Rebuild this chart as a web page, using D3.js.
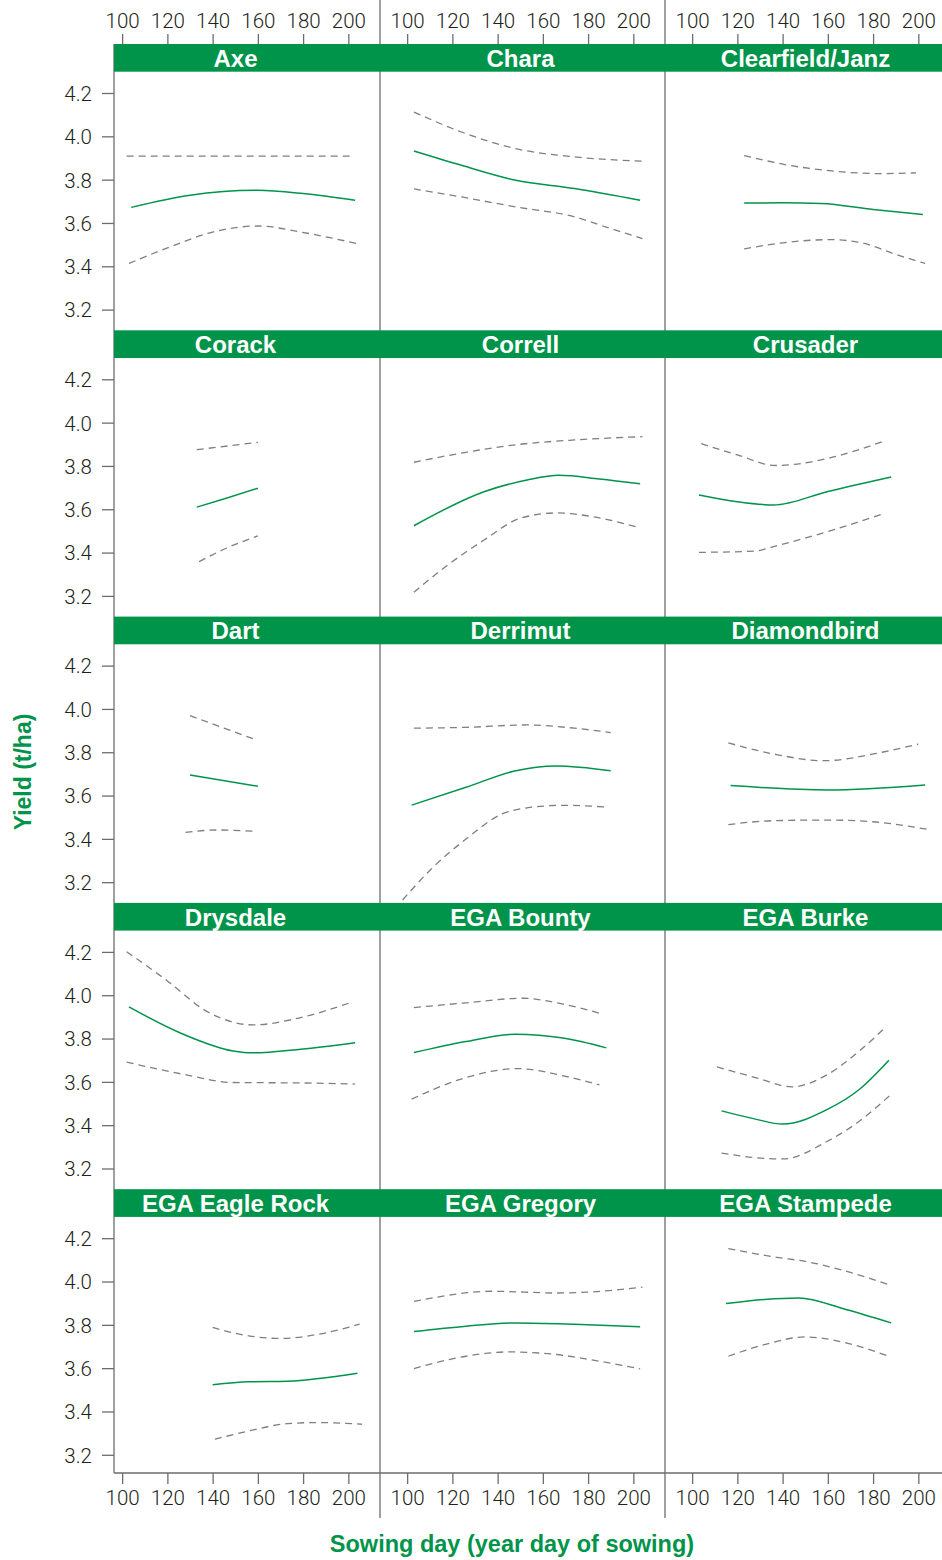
<!DOCTYPE html>
<html>
<head>
<meta charset="utf-8">
<script src="https://cdn.jsdelivr.net/npm/d3@7"></script>
<style>
  html, body { margin: 0; padding: 0; background: #fff; }
  svg { display: block; }
</style>
</head>
<body>
<div id="chart"></div>
<script>
// Wheat variety yield response to sowing day: fitted curve with upper/lower bounds.
const varieties = ["Axe", "Chara", "Clearfield/Janz", "Corack", "Correll", "Crusader",
  "Dart", "Derrimut", "Diamondbird", "Drysdale", "EGA Bounty", "EGA Burke",
  "EGA Eagle Rock", "EGA Gregory", "EGA Stampede"];

// fitted yield (t/ha) by sowing day
const fitDay = [
  [104,130,160,180,203], [103,124,148,174,203], [123,140,157,180,202],
  [133,146,160], [103,134,153,167,185,203], [103,120,136,160,188],
  [130,160], [102,126,147,166,190], [117,160,203],
  [103,127,149,158,179,203], [103,126,148,169,188], [113,128,140,160,174,187],
  [140,156,173,204], [103,126,148,174,203], [115,132,147,168,188]];
const fitYield = [
  [3.672,3.728,3.751,3.736,3.705], [3.932,3.866,3.797,3.759,3.705], [3.692,3.693,3.690,3.662,3.639],
  [3.610,3.651,3.697], [3.524,3.681,3.735,3.757,3.740,3.718], [3.666,3.635,3.620,3.682,3.749],
  [3.695,3.643], [3.556,3.638,3.712,3.737,3.715], [3.646,3.626,3.649],
  [3.946,3.820,3.743,3.734,3.751,3.781], [3.735,3.786,3.820,3.802,3.757], [3.466,3.428,3.405,3.474,3.566,3.700],
  [3.523,3.537,3.540,3.577], [3.769,3.794,3.809,3.803,3.791], [3.898,3.917,3.924,3.871,3.809]];

// upper bound
const upperDay = [
  [102,152,202], [103,124,148,174,204], [123,143,159,183,199],
  [133,160], [103,126,150,174,204], [104,120,137,160,184],
  [130,159], [103,126,153,174,190], [116,136,158,184,200],
  [102,120,137,158,179,201], [103,126,151,169,185], [111,128,144,160,174,186],
  [140,156,170,187,205], [103,138,166,180,204], [116,136,152,168,188]];
const upperYield = [
  [3.909,3.909,3.909], [4.112,4.020,3.943,3.905,3.885], [3.911,3.866,3.843,3.828,3.831],
  [3.875,3.909], [3.817,3.863,3.900,3.920,3.935], [3.903,3.851,3.802,3.835,3.912],
  [3.969,3.858], [3.911,3.915,3.926,3.911,3.891], [3.843,3.792,3.761,3.800,3.838],
  [4.201,4.066,3.928,3.863,3.897,3.966], [3.943,3.965,3.986,3.959,3.917], [3.669,3.620,3.577,3.635,3.743,3.857],
  [3.788,3.749,3.737,3.757,3.803], [3.908,3.955,3.947,3.951,3.974], [4.152,4.114,4.089,4.048,3.982]];

// lower bound
const lowerDay = [
  [103,123,140,160,179,205], [103,124,148,174,188,204], [123,143,161,175,190,203],
  [134,146,160], [103,118,134,150,166,182,202], [103,128,136,160,184],
  [128,142,158], [98,110,126,142,153,169,188], [116,136,160,180,204],
  [102,127,149,179,203], [102,126,149,169,185], [113,128,140,160,174,188],
  [141,156,173,187,206], [103,126,145,166,185,203], [116,132,150,168,186]];
const lowerYield = [
  [3.413,3.497,3.558,3.586,3.558,3.502], [3.757,3.720,3.674,3.628,3.581,3.528], [3.480,3.512,3.523,3.508,3.455,3.413],
  [3.358,3.420,3.477], [3.217,3.343,3.458,3.558,3.583,3.566,3.517], [3.401,3.407,3.428,3.497,3.578],
  [3.430,3.441,3.435], [3.118,3.254,3.399,3.515,3.543,3.555,3.547], [3.466,3.484,3.487,3.479,3.444],
  [3.691,3.635,3.597,3.595,3.590], [3.520,3.620,3.661,3.628,3.586], [3.271,3.250,3.244,3.327,3.419,3.543],
  [3.272,3.310,3.344,3.349,3.341], [3.598,3.655,3.675,3.663,3.632,3.597], [3.655,3.709,3.744,3.717,3.658]];

const xTicks = [100, 120, 140, 160, 180, 200];
const yTicks = [3.2, 3.4, 3.6, 3.8, 4.0, 4.2];

// ---- layout ----
const W = 942, H = 1560;
const nCols = 3, nRows = 5;
const panelW = 285;
const colOrigin0 = 95;
const plotLeft = 114, plotRight = W;
const rowPitch = 286.3, stripTop0 = 44, stripH = 27.7;
const plotBottom = 1473;
const green = "#00944a", axisGrey = "#6d6d6d", textCol = "#231f20";
const tickFont = "Roboto, 'Liberation Sans', Arial, sans-serif";
const boldFont = "'Liberation Sans', Arial, Helvetica, sans-serif";

const svg = d3.select("#chart").append("svg")
  .attr("width", W).attr("height", H);

const colX = c => colOrigin0 + c * panelW;
const stripTop = r => stripTop0 + r * rowPitch;
const panelBottom = r => r === nRows - 1 ? plotBottom : stripTop(r + 1);

const xScaleFor = c => d3.scaleLinear().domain([88, 214]).range([colX(c), colX(c) + panelW]);
const yScaleFor = r => {
  const top = stripTop(r) + stripH + 21.3;
  return d3.scaleLinear().domain([3.2, 4.2]).range([top + 216.6, top]);
};

const defs = svg.append("defs");

// clip regions for each panel
for (let r = 0; r < nRows; r++) {
  for (let c = 0; c < nCols; c++) {
    const x0 = Math.max(colX(c), plotLeft), x1 = Math.min(colX(c) + panelW, plotRight);
    defs.append("clipPath").attr("id", `clip-${r}-${c}`)
      .append("rect")
      .attr("x", x0).attr("y", stripTop(r) + stripH)
      .attr("width", x1 - x0).attr("height", panelBottom(r) - stripTop(r) - stripH);
  }
}

const frame = svg.append("g");
// column dividers run the full height
[1, 2].forEach(c => {
  frame.append("line")
    .attr("x1", colX(c)).attr("x2", colX(c))
    .attr("y1", 0).attr("y2", 1518)
    .attr("stroke", axisGrey).attr("stroke-width", 1.3);
});
// left and bottom borders
frame.append("line").attr("x1", plotLeft).attr("x2", plotLeft)
  .attr("y1", stripTop0).attr("y2", plotBottom)
  .attr("stroke", axisGrey).attr("stroke-width", 1.3);
frame.append("line").attr("x1", plotLeft).attr("x2", plotRight)
  .attr("y1", plotBottom).attr("y2", plotBottom)
  .attr("stroke", axisGrey).attr("stroke-width", 1.3);

const lineGen = (xs, ys) => d3.line()
  .x(d => xs(d[0])).y(d => ys(d[1]))
  .curve(d3.curveMonotoneX);

varieties.forEach((name, i) => {
  const r = Math.floor(i / nCols), c = i % nCols;
  const xs = xScaleFor(c), ys = yScaleFor(r);
  const g = svg.append("g").attr("clip-path", `url(#clip-${r}-${c})`);

  const zip = (a, b) => a.map((d, k) => [d, b[k]]);
  const lg = lineGen(xs, ys);

  g.append("path").attr("d", lg(zip(upperDay[i], upperYield[i])))
    .attr("fill", "none").attr("stroke", "#7f7f7f").attr("stroke-width", 1.3)
    .attr("stroke-dasharray", "7,5");
  g.append("path").attr("d", lg(zip(lowerDay[i], lowerYield[i])))
    .attr("fill", "none").attr("stroke", "#7f7f7f").attr("stroke-width", 1.3)
    .attr("stroke-dasharray", "7,5");
  g.append("path").attr("d", lg(zip(fitDay[i], fitYield[i])))
    .attr("fill", "none").attr("stroke", green).attr("stroke-width", 1.5);

  // strip
  const sx0 = Math.max(colX(c), plotLeft), sx1 = Math.min(colX(c) + panelW, plotRight);
  svg.append("rect")
    .attr("x", sx0).attr("y", stripTop(r))
    .attr("width", sx1 - sx0).attr("height", stripH)
    .attr("fill", green);
  svg.append("text")
    .attr("x", colX(c) + panelW / 2 - 2).attr("y", stripTop(r) + 22.6)
    .attr("text-anchor", "middle")
    .attr("font-family", boldFont).attr("font-weight", "bold")
    .attr("font-size", 24).attr("fill", "#fff")
    .text(name);
});

// y axis on left of every row
for (let r = 0; r < nRows; r++) {
  const ys = yScaleFor(r);
  const ax = svg.append("g").attr("transform", `translate(${plotLeft},0)`)
    .call(d3.axisLeft(ys).tickValues(yTicks).tickFormat(d3.format(".1f")).tickSize(12).tickPadding(10));
  ax.select(".domain").remove();
  ax.selectAll(".tick line").attr("stroke", axisGrey).attr("stroke-width", 1.3);
  ax.selectAll(".tick text").attr("font-family", tickFont).attr("font-weight", 300)
    .attr("font-size", 20.5).attr("fill", textCol).attr("dy", "0.36em");
}

// x axes on top and bottom of every column
for (let c = 0; c < nCols; c++) {
  const xs = xScaleFor(c);
  const top = svg.append("g").attr("transform", `translate(0,${stripTop0})`)
    .call(d3.axisTop(xs).tickValues(xTicks).tickSize(10).tickPadding(6));
  const bot = svg.append("g").attr("transform", `translate(0,${plotBottom})`)
    .call(d3.axisBottom(xs).tickValues(xTicks).tickSize(11).tickPadding(6));
  [top, bot].forEach(ax => {
    ax.select(".domain").remove();
    ax.selectAll(".tick line").attr("stroke", axisGrey).attr("stroke-width", 1.3);
    ax.selectAll(".tick text").attr("font-family", tickFont).attr("font-weight", 300)
      .attr("font-size", 20.5).attr("fill", textCol);
  });
}

// axis titles
svg.append("text")
  .attr("x", 512).attr("y", 1552)
  .attr("text-anchor", "middle")
  .attr("font-family", boldFont).attr("font-weight", "bold")
  .attr("font-size", 23.5).attr("fill", green)
  .text("Sowing day (year day of sowing)");
svg.append("text")
  .attr("transform", "translate(31,772) rotate(-90)")
  .attr("text-anchor", "middle")
  .attr("font-family", boldFont).attr("font-weight", "bold")
  .attr("font-size", 23).attr("fill", green)
  .text("Yield (t/ha)");
</script>
</body>
</html>
